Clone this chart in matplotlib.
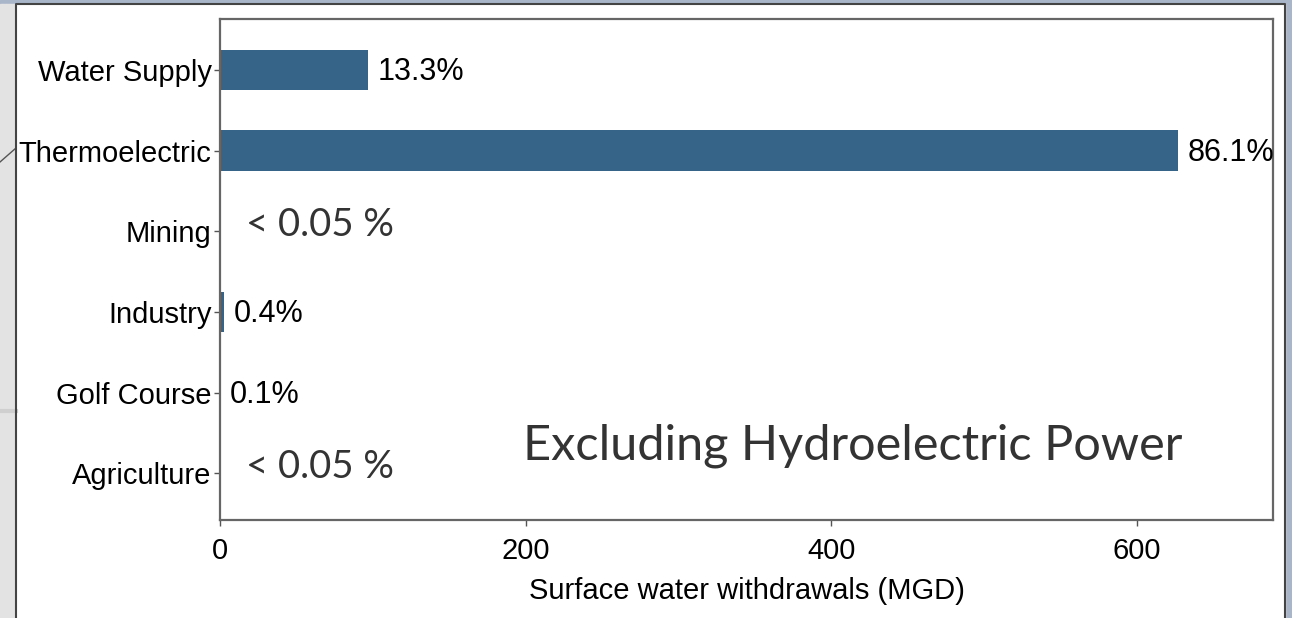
import matplotlib
matplotlib.use("Agg")
import matplotlib.pyplot as plt
from matplotlib.patches import Rectangle
from matplotlib.lines import Line2D
from matplotlib import font_manager

# data (MGD), top to bottom
categories = ["Water Supply", "Thermoelectric", "Mining", "Industry", "Golf Course", "Agriculture"]
withdrawals = [97, 627, 0.2, 2.9, 0.7, 0.1]
pct_labels = ["13.3%", "86.1%", "< 0.05 %", "0.4%", "0.1%", "< 0.05 %"]
xticks = [0, 200, 400, 600]

names = {f.name for f in font_manager.fontManager.ttflist}
narrow = "Liberation Sans Narrow" if "Liberation Sans Narrow" in names else "Liberation Sans"
soft = "Lato"

W, H = 1292, 618
fig = plt.figure(figsize=(W / 100, H / 100), dpi=100)

# screenshot surroundings
fig.patches.append(Rectangle((0, 0), 1, 1, transform=fig.transFigure, color="#a9b5c9", zorder=-10))
fig.patches.append(Rectangle((0, 0), 16 / W, 1 - 4 / H, transform=fig.transFigure, color="#e3e3e3", zorder=-9))
fig.patches.append(Rectangle((16 / W, 0), (1285 - 16) / W, 1 - 4 / H, transform=fig.transFigure,
                             color="white", zorder=-9))
fig.lines.append(Line2D([0, 16 / W], [1 - 411 / H, 1 - 411 / H], transform=fig.transFigure, color="#cfcfcf", lw=3))
fig.lines.append(Line2D([0, 16 / W], [1 - 162 / H, 1 - 148 / H], transform=fig.transFigure, color="#555555", lw=1))
fig.lines.append(Line2D([16 / W, 16 / W, 1285 / W, 1285 / W], [0, 1 - 4 / H, 1 - 4 / H, 0],
                        transform=fig.transFigure, color="#444444", lw=1.5))

ax = fig.add_axes([220 / W, 1 - 520 / H, (1273 - 220) / W, (520 - 19) / H])
y = list(range(len(categories)))
ax.barh(y, withdrawals, height=0.5, color="#366489", edgecolor="none")
ax.set_ylim(len(categories) - 0.42, -0.63)
ax.set_xlim(0, 689)

ax.set_yticks(y)
ax.set_yticklabels(categories, family=[narrow, "DejaVu Sans"], fontsize=21)
ax.set_xticks(xticks)
ax.set_xticklabels([str(t) for t in xticks], family=[narrow, "DejaVu Sans"], fontsize=21)
ax.tick_params(length=4, width=1, color="#555555")
ax.tick_params(axis="x", pad=8)
ax.tick_params(axis="y", pad=2)
for s in ax.spines.values():
    s.set_color("#666666")
    s.set_linewidth(1.6)
ax.set_xlabel("Surface water withdrawals (MGD)", family=[narrow, "DejaVu Sans"], fontsize=21, labelpad=9)

for i, (v, lab) in enumerate(zip(withdrawals, pct_labels)):
    if lab.startswith("<"):
        ax.text(17, i - 0.08, lab, family=soft, fontsize=27.5, color="#333333", va="center", ha="left")
    else:
        ax.text(v + 6, i + 0.03, lab, family=[narrow, "DejaVu Sans"], fontsize=22, va="center", ha="left")

ax.text(0.601, 0.148, "Excluding Hydroelectric Power", transform=ax.transAxes, family=soft,
        fontsize=35, color="#333333", ha="center", va="center")

fig.savefig("out.png", dpi=100)
